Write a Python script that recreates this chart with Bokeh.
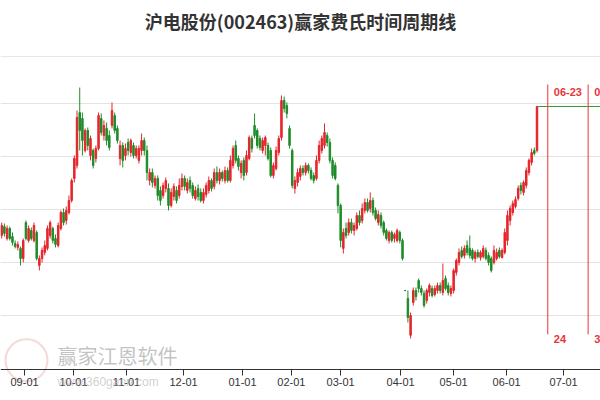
from bokeh.plotting import figure
from bokeh.models import Range1d, FixedTicker, Span, Label, ColumnDataSource
from bokeh.embed import file_html
from bokeh.resources import INLINE
from bokeh.core.properties import value

title_text = "沪电股份(002463)赢家费氏时间周期线"

opens = [
    32.55, 33.39, 32.27, 33.21, 32.45, 31.80, 31.42, 31.33, 30.38, 33.77,
    32.08, 33.02, 32.08, 32.83, 29.72, 30.38, 30.95, 31.33, 32.55, 33.21,
    32.27, 31.61, 33.21, 34.72, 33.96, 34.72, 35.85, 37.93, 39.16, 44.15,
    43.59, 40.57, 42.46, 40.10, 40.57, 39.82, 40.76, 43.59, 41.98, 42.65,
    41.98, 42.93, 43.87, 42.65, 39.82, 41.04, 40.10, 41.32, 40.38, 41.04,
    40.10, 39.63, 40.57, 41.51, 40.57, 37.74, 38.49, 37.27, 37.93, 36.80,
    36.32, 36.99, 36.99, 35.38, 36.23, 36.80, 36.32, 37.18, 37.93, 36.80,
    37.74, 37.27, 36.04, 36.99, 36.61, 35.85, 36.42, 36.80, 37.74, 37.18,
    38.49, 37.74, 38.49, 37.74, 38.68, 37.74, 39.16, 41.04, 39.82, 38.49,
    39.63, 38.49, 39.82, 41.70, 42.93, 42.46, 41.70, 40.57, 41.04, 41.04,
    40.57, 38.21, 38.87, 40.38, 41.79, 45.29, 44.81, 42.65, 40.57, 36.99,
    37.55, 38.12, 38.87, 38.49, 39.16, 38.68, 38.21, 37.93, 39.63, 40.57,
    41.04, 41.98, 41.32, 39.63, 39.16, 37.27, 35.38, 31.33, 33.21, 32.83,
    33.77, 33.02, 33.21, 34.43, 33.96, 34.91, 35.66, 35.10, 35.85, 34.91,
    33.77, 34.43, 33.77, 33.02, 32.08, 32.83, 32.27, 32.08, 32.83, 32.08,
    27.36, 26.61, 23.13, 26.23, 27.36, 28.30, 27.55, 27.08, 26.42, 27.17,
    27.55, 26.98, 27.36, 27.83, 27.17, 28.49, 27.83, 27.08, 27.36, 29.06,
    30.00, 31.14, 30.67, 31.61, 31.33, 31.14, 30.38, 30.95, 30.47, 30.57,
    31.14, 30.67, 30.38, 30.00, 30.38, 31.14, 30.47, 30.95, 32.08, 33.96,
    34.72, 35.29, 36.04, 37.27, 36.61, 37.27, 38.49, 39.44, 40.57, 40.57,
]
highs = [
    33.77, 33.68, 33.49, 33.39, 32.83, 32.08, 31.99, 31.51, 32.27, 33.96,
    33.49, 33.30, 33.77, 33.02, 30.67, 31.42, 32.08, 33.49, 33.96, 33.39,
    32.64, 33.77, 34.91, 35.10, 35.29, 36.32, 37.93, 40.10, 44.34, 46.51,
    44.15, 42.65, 42.74, 41.98, 40.76, 41.04, 44.15, 44.06, 43.40, 43.21,
    42.46, 45.10, 44.15, 42.93, 41.51, 41.32, 41.23, 41.70, 41.70, 41.32,
    41.04, 41.04, 42.17, 41.79, 41.04, 38.87, 38.87, 38.21, 38.21, 37.18,
    37.55, 38.02, 37.46, 36.99, 37.46, 37.18, 37.93, 38.40, 38.21, 37.93,
    38.12, 37.55, 37.18, 37.36, 36.99, 36.99, 37.55, 38.12, 37.93, 38.87,
    39.06, 38.87, 38.68, 39.06, 38.97, 40.10, 41.04, 41.51, 40.10, 39.63,
    39.91, 40.57, 41.98, 41.98, 44.06, 42.65, 41.98, 41.79, 41.98, 41.32,
    40.85, 39.44, 40.94, 41.98, 45.76, 45.66, 45.10, 42.93, 40.76, 38.12,
    38.87, 39.16, 39.16, 39.44, 39.35, 38.97, 38.49, 40.10, 41.51, 41.98,
    43.12, 42.27, 41.70, 39.91, 39.44, 37.46, 35.57, 33.21, 33.77, 34.15,
    34.15, 33.77, 34.72, 34.91, 35.57, 36.04, 36.04, 36.61, 36.13, 35.19,
    34.91, 34.72, 33.96, 33.21, 33.02, 33.02, 32.83, 33.21, 33.02, 32.27,
    27.38, 27.36, 25.28, 27.64, 27.64, 28.49, 27.83, 27.36, 27.55, 28.02,
    27.83, 27.83, 28.11, 28.11, 29.91, 28.77, 28.11, 27.83, 29.43, 30.38,
    31.33, 31.51, 31.61, 32.08, 32.55, 31.33, 31.14, 31.23, 31.14, 31.61,
    31.42, 30.95, 30.57, 31.61, 31.33, 31.42, 31.33, 33.21, 34.91, 35.38,
    35.85, 36.23, 37.27, 37.55, 37.74, 38.97, 39.82, 40.76, 40.85, 44.72,
]
lows = [
    32.27, 32.45, 32.08, 32.08, 31.61, 31.33, 31.14, 29.72, 30.00, 32.08,
    31.89, 32.08, 31.89, 30.19, 29.25, 30.00, 30.67, 31.14, 32.27, 31.80,
    31.42, 31.42, 33.02, 33.49, 33.58, 34.53, 35.66, 37.55, 38.87, 40.57,
    40.10, 40.38, 40.57, 39.63, 38.87, 39.44, 40.57, 41.98, 41.51, 41.04,
    40.57, 42.65, 42.17, 41.23, 39.16, 38.97, 39.63, 40.10, 40.00, 39.82,
    39.82, 39.35, 40.10, 40.10, 37.74, 37.27, 37.08, 36.99, 35.85, 35.38,
    36.04, 36.61, 34.91, 35.19, 35.85, 35.57, 36.04, 36.80, 36.80, 36.51,
    36.61, 36.04, 35.85, 35.85, 35.66, 35.57, 36.13, 36.51, 36.70, 36.89,
    37.46, 37.36, 37.64, 37.46, 37.55, 37.55, 38.87, 39.35, 38.68, 37.93,
    37.74, 38.21, 39.63, 40.38, 41.70, 40.76, 40.57, 40.29, 40.10, 39.63,
    38.02, 37.93, 38.68, 40.10, 41.51, 44.15, 43.59, 40.76, 36.99, 36.51,
    37.18, 37.74, 38.21, 38.21, 38.40, 37.74, 37.46, 37.74, 39.35, 40.29,
    40.76, 40.94, 39.35, 37.93, 37.74, 34.63, 31.42, 30.85, 32.27, 32.55,
    32.74, 32.55, 33.02, 33.49, 33.68, 34.63, 34.72, 34.72, 34.43, 33.96,
    33.49, 33.21, 32.55, 32.08, 31.80, 31.89, 31.89, 31.89, 31.80, 30.19,
    27.32, 24.34, 22.83, 25.94, 26.42, 27.17, 26.89, 25.75, 26.13, 26.79,
    26.70, 26.79, 27.08, 27.08, 26.89, 27.36, 26.89, 26.79, 27.08, 28.77,
    29.72, 30.38, 30.38, 30.67, 30.38, 30.19, 30.00, 30.38, 30.19, 30.38,
    30.19, 29.72, 29.06, 29.81, 30.19, 30.38, 30.38, 30.76, 31.61, 33.49,
    34.43, 35.10, 35.85, 36.42, 36.32, 36.99, 38.21, 39.16, 40.10, 40.38,
]
closes = [
    33.49, 32.74, 33.21, 32.27, 31.89, 31.51, 31.70, 30.38, 32.08, 32.27,
    33.21, 32.27, 33.49, 30.38, 30.38, 31.14, 31.61, 33.21, 33.77, 32.08,
    31.70, 33.49, 34.72, 33.77, 34.91, 35.85, 37.74, 39.82, 43.68, 42.46,
    41.51, 42.46, 41.04, 41.70, 39.16, 40.76, 43.87, 42.27, 42.93, 41.51,
    40.85, 44.34, 42.46, 41.51, 41.04, 39.63, 40.76, 40.57, 41.51, 40.10,
    40.76, 40.76, 41.51, 40.57, 38.49, 38.49, 37.55, 37.93, 36.32, 35.85,
    37.27, 37.74, 35.38, 36.61, 37.18, 35.85, 37.27, 37.93, 37.18, 37.55,
    36.99, 36.32, 36.80, 36.23, 35.85, 36.61, 37.27, 37.74, 36.99, 38.49,
    37.74, 38.49, 37.93, 38.68, 37.74, 39.63, 40.76, 39.63, 39.06, 39.35,
    38.21, 40.10, 41.79, 40.76, 41.98, 41.04, 40.85, 41.51, 41.79, 39.82,
    38.21, 39.16, 40.57, 41.70, 45.29, 44.53, 44.06, 41.04, 37.27, 37.74,
    38.49, 38.87, 38.49, 39.16, 38.68, 37.93, 37.74, 39.63, 41.04, 41.70,
    42.27, 41.32, 39.63, 38.21, 37.93, 35.38, 32.08, 32.83, 32.55, 33.77,
    33.02, 33.49, 34.43, 33.77, 35.10, 35.66, 34.91, 35.85, 34.72, 34.15,
    34.53, 33.49, 32.83, 32.27, 32.83, 32.08, 32.64, 33.02, 32.08, 30.38,
    27.34, 24.81, 25.00, 27.36, 26.79, 27.55, 27.17, 25.94, 27.36, 27.83,
    26.89, 27.55, 27.83, 27.36, 28.30, 27.55, 27.17, 27.55, 29.25, 30.19,
    30.95, 30.57, 31.33, 30.95, 30.67, 30.38, 30.95, 30.57, 30.95, 31.33,
    30.38, 30.00, 29.25, 31.14, 30.95, 30.57, 31.14, 32.83, 34.43, 35.10,
    35.57, 35.94, 36.99, 36.80, 37.55, 38.68, 39.63, 40.38, 40.29, 44.72,
]

month_ticks = [8.5, 26.7, 46.4, 67.6, 89.5, 107.7, 126.0, 148.3, 168.0, 187.7, 208.9]
month_labels = ["09-01", "10-01", "11-01", "12-01", "01-01", "02-01",
                "03-01", "04-01", "05-01", "06-01", "07-01"]

cycle_idx = [203, 218]
cycle_dates = ["06-23", "07-14"]
cycle_counts = ["24", "39"]

grid_levels = [25, 30, 35, 40, 45]

RED = "#e4262c"
GREEN = "#1f8c2a"
CYCLE_RED = "#e8353a"

idx = list(range(len(closes)))
colors = [RED if c >= o else GREEN for o, c in zip(opens, closes)]
src = ColumnDataSource(dict(
    x=idx, h=highs, l=lows,
    top=[max(o, c) for o, c in zip(opens, closes)],
    bottom=[min(o, c) for o, c in zip(opens, closes)],
    color=colors,
))

AXIS_LEVEL = 19.91  # price level at which the time axis is drawn

p = figure(width=600, height=400,
           x_range=Range1d(-0.45, 222.6), y_range=Range1d(16.98, 54.72),
           output_backend="svg", toolbar_location=None,
           y_axis_location=None,
           min_border_left=0, min_border_right=0,
           min_border_top=0, min_border_bottom=0)
p.outline_line_color = None
p.background_fill_color = "white"
p.border_fill_color = "white"

p.xgrid.visible = False
p.ygrid.ticker = FixedTicker(ticks=grid_levels)
p.ygrid.grid_line_color = "#e3e3e3"
p.ygrid.grid_line_width = 1

xa = p.xaxis[0]
xa.fixed_location = AXIS_LEVEL
xa.ticker = FixedTicker(ticks=month_ticks)
xa.major_label_overrides = {t: lab for t, lab in zip(month_ticks, month_labels)}
xa.axis_line_color = "#333333"
xa.major_tick_line_color = "#333333"
xa.major_tick_in = 0
xa.major_tick_out = 6
xa.minor_tick_line_color = None
xa.major_label_standoff = 3
xa.major_label_text_font = "Liberation Sans"
xa.major_label_text_font_size = "11px"
xa.major_label_text_color = "#333333"

# title and separator
p.add_layout(Label(x=111.08, y=52.83, text=title_text, text_align="center",
                   text_baseline="middle", text_font="Noto Sans CJK SC",
                   text_font_size="18px", text_font_style="bold", text_color="#333333"))
p.add_layout(Span(location=49.44, dimension="width", line_color="#e6e6e6", line_width=1))

# watermark
p.scatter(x=[9.2], y=[20.77], size=42, marker="circle", fill_color=None,
          line_color="#d98080", line_alpha=0.3, line_width=2)
p.add_layout(Label(x=20.7, y=21.24, text="赢家江恩软件", text_baseline="middle",
                   text_font="Noto Sans CJK SC", text_font_size="20px",
                   text_color="#9a9a9a", text_alpha=0.6))
p.add_layout(Label(x=20.7, y=18.74, text="www.360gann.com", text_baseline="middle",
                   text_font="Liberation Sans", text_font_size="12px",
                   text_color="#b0b0b0", text_alpha=0.6))

# candles
p.segment(x0="x", y0="h", x1="x", y1="l", line_color="color", line_width=1, source=src)
p.vbar(x="x", width=0.55, top="top", bottom="bottom", fill_color="color",
       line_color="color", line_width=1, source=src)

# level of the last close carried forward
p.segment(x0=[idx[-1]], y0=[closes[-1]], x1=[230], y1=[closes[-1]],
          line_color="#3a9a3a", line_width=1)

# Fibonacci time-cycle lines
p.segment(x0=cycle_idx, y0=[46.80] * len(cycle_idx), x1=cycle_idx, y1=[23.22] * len(cycle_idx),
          line_color=CYCLE_RED, line_width=1)
p.text(x=cycle_idx, y=[46.04] * len(cycle_idx), text=cycle_dates, x_offset=6,
       text_font=value("Liberation Sans"), text_font_size="11px", text_font_style="bold",
       text_color=CYCLE_RED, text_baseline="alphabetic")
p.text(x=cycle_idx, y=[22.79] * len(cycle_idx), text=cycle_counts, x_offset=6,
       text_font=value("Liberation Sans"), text_font_size="11px", text_font_style="bold",
       text_color=CYCLE_RED, text_baseline="alphabetic")

open("out.html", "w").write(file_html(p, INLINE))
